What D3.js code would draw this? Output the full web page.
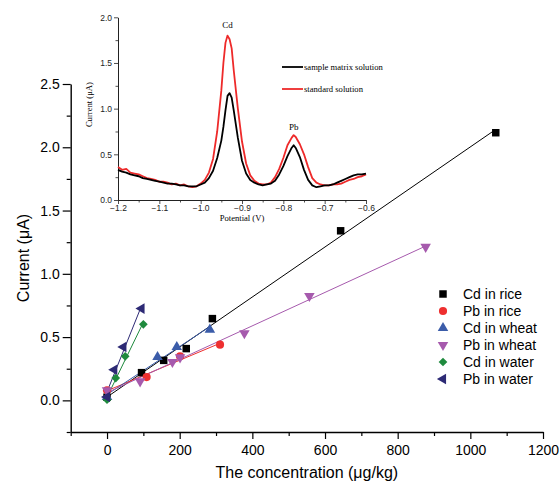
<!DOCTYPE html>
<meta charset="utf-8">
<script src="https://d3js.org/d3.v7.min.js"></script>
<style>
  body { margin: 0; background: #fff; }
  svg { display: block; }
</style>
<div id="chart"></div>
<script>
  // calibration data (concentration in µg/kg, current in µA)
  const seriesNames = ["Cd in rice", "Pb in rice", "Cd in wheat", "Pb in wheat", "Cd in water", "Pb in water"];
  const cdRiceX = [0, 95, 156, 218, 290, 643, 1070];
  const cdRiceY = [0.025, 0.219, 0.316, 0.409, 0.646, 1.34, 2.115];
  const pbRiceX = [0, 109, 201, 311];
  const pbRiceY = [0.08, 0.184, 0.348, 0.440];
  const cdWheatX = [0, 139, 192, 283];
  const cdWheatY = [0.026, 0.342, 0.422, 0.559];
  const pbWheatX = [0, 91, 180, 201, 378, 557, 877];
  const pbWheatY = [0.08, 0.150, 0.303, 0.34, 0.53, 0.825, 1.213];
  const cdWaterX = [0, 24, 50, 100];
  const cdWaterY = [0.005, 0.176, 0.348, 0.601];
  const pbWaterX = [0, 20, 45, 95];
  const pbWaterY = [0.026, 0.242, 0.422, 0.725];

  // inset voltammograms
  const potential = [-1.20,-1.19,-1.18,-1.17,-1.16,-1.15,-1.14,-1.13,-1.12,-1.11,-1.10,-1.09,-1.08,-1.07,-1.06,-1.05,-1.04,-1.03,-1.02,-1.01,
    -1.00,-0.99,-0.98,-0.97,-0.96,-0.95,-0.945,-0.94,-0.935,-0.93,-0.925,-0.92,-0.91,-0.90,-0.89,-0.88,-0.87,-0.86,-0.85,-0.84,-0.83,
    -0.82,-0.81,-0.80,-0.79,-0.78,-0.775,-0.77,-0.76,-0.75,-0.74,-0.73,-0.72,-0.71,-0.70,-0.69,-0.68,-0.67,-0.66,-0.65,-0.64,-0.63,-0.62,-0.61,-0.60];
  const sampleCurrent = [0.33,0.31,0.30,0.28,0.27,0.26,0.24,0.23,0.22,0.21,0.20,0.19,0.18,0.18,0.17,0.16,0.16,0.15,0.15,0.15,
    0.17,0.19,0.24,0.32,0.46,0.65,0.80,0.98,1.14,1.17,1.12,0.98,0.68,0.43,0.29,0.22,0.19,0.17,0.16,0.17,0.18,
    0.21,0.28,0.37,0.48,0.57,0.60,0.57,0.47,0.33,0.22,0.16,0.14,0.15,0.16,0.16,0.17,0.19,0.21,0.23,0.25,0.27,0.28,0.28,0.29];
  const standardCurrent = [0.36,0.33,0.34,0.30,0.29,0.28,0.26,0.24,0.23,0.22,0.20,0.20,0.19,0.17,0.18,0.16,0.17,0.15,0.14,0.15,
    0.18,0.22,0.30,0.45,0.75,1.20,1.50,1.72,1.80,1.76,1.66,1.42,1.00,0.64,0.40,0.27,0.21,0.18,0.17,0.17,0.19,
    0.25,0.34,0.46,0.60,0.68,0.71,0.69,0.61,0.50,0.36,0.24,0.19,0.17,0.16,0.16,0.17,0.17,0.18,0.20,0.22,0.23,0.25,0.26,0.28];

  const xTicks = [0, 200, 400, 600, 800, 1000, 1200];
  const yTicks = [0.0, 0.5, 1.0, 1.5, 2.0, 2.5];
  const insetXTicks = [-1.2, -1.1, -1.0, -0.9, -0.8, -0.7, -0.6];
  const insetYTicks = [0.0, 0.5, 1.0, 1.5, 2.0];

  const colors = ["#000000", "#ee2f2f", "#3b5ca9", "#a65aad", "#1e8a3d", "#2d2a75"];
  const sans = "'Liberation Sans', Arial, sans-serif";
  const serif = "'Liberation Serif', 'Times New Roman', serif";

  const series = [
    {x: cdRiceX, y: cdRiceY, shape: d3.symbolSquare, size: 56, rot: 0},
    {x: pbRiceX, y: pbRiceY, shape: d3.symbolCircle, size: 52, rot: 0},
    {x: cdWheatX, y: cdWheatY, shape: d3.symbolTriangle, size: 48, rot: 0},
    {x: pbWheatX, y: pbWheatY, shape: d3.symbolTriangle, size: 48, rot: 180},
    {x: cdWaterX, y: cdWaterY, shape: d3.symbolSquare, size: 38, rot: 45},
    {x: pbWaterX, y: pbWaterY, shape: d3.symbolTriangle, size: 48, rot: -90}
  ];

  // least squares line through a series
  function fit(xs, ys) {
    const mx = d3.mean(xs), my = d3.mean(ys);
    const sxy = d3.sum(xs, (v, i) => (v - mx) * (ys[i] - my));
    const sxx = d3.sum(xs, v => (v - mx) * (v - mx));
    const slope = sxy / sxx;
    const b = my - slope * mx;
    const x0 = d3.min(xs), x1 = d3.max(xs);
    return [[x0, b + slope * x0], [x1, b + slope * x1]];
  }

  const svg = d3.select("#chart").append("svg")
      .attr("width", 560)
      .attr("height", 484)
      .style("background", "#fff");

  // main scales
  const x = d3.scaleLinear().domain([-100, 1200]).range([70.7, 543]);
  const y = d3.scaleLinear().domain([-0.25, 2.5]).range([432, 84]);

  function styleAxis(g, size) {
    g.select(".domain").attr("stroke", "#000").attr("stroke-width", 1.4);
    g.selectAll(".tick line").attr("stroke", "#000").attr("stroke-width", 1.2);
    g.selectAll("text").attr("font-family", sans).attr("font-size", size).attr("fill", "#000");
  }

  // X axis with minor ticks
  svg.append("g")
      .attr("transform", `translate(0,${y(-0.25)})`)
      .call(d3.axisBottom(x).tickValues(d3.range(-100, 1200, 200)).tickSize(4).tickFormat(""))
      .call(g => g.select(".domain").remove())
      .call(g => g.selectAll(".tick line").attr("stroke", "#000").attr("stroke-width", 1.2));
  svg.append("g")
      .attr("transform", `translate(0,${y(-0.25)})`)
      .call(d3.axisBottom(x).tickValues(xTicks).tickSize(7).tickSizeOuter(0).tickPadding(6).tickFormat(d3.format("d")))
      .call(g => styleAxis(g, 14));

  // Y axis with minor ticks
  svg.append("g")
      .attr("transform", `translate(${x(-100)},0)`)
      .call(d3.axisLeft(y).tickValues(d3.range(-0.25, 2.5, 0.5)).tickSize(4).tickFormat(""))
      .call(g => g.select(".domain").remove())
      .call(g => g.selectAll(".tick line").attr("stroke", "#000").attr("stroke-width", 1.2));
  svg.append("g")
      .attr("transform", `translate(${x(-100)},0)`)
      .call(d3.axisLeft(y).tickValues(yTicks).tickSize(8).tickSizeOuter(0).tickPadding(3).tickFormat(d3.format(".1f")))
      .call(g => styleAxis(g, 14));

  // axis titles
  svg.append("text")
      .attr("x", (x(-100) + x(1200)) / 2)
      .attr("y", 478)
      .attr("text-anchor", "middle")
      .attr("font-family", sans)
      .attr("font-size", 16)
      .text("The concentration (\u03bcg/kg)");
  svg.append("text")
      .attr("transform", `translate(29,${(y(-0.25) + y(2.5)) / 2}) rotate(-90)`)
      .attr("text-anchor", "middle")
      .attr("font-family", sans)
      .attr("font-size", 16)
      .text("Current (\u03bcA)");

  // fitted lines then markers
  const line = d3.line().x(d => x(d[0])).y(d => y(d[1]));
  series.forEach((s, i) => {
    svg.append("path")
        .datum(fit(s.x, s.y))
        .attr("d", line)
        .attr("fill", "none")
        .attr("stroke", colors[i])
        .attr("stroke-width", 1);
  });
  series.forEach((s, i) => {
    const pts = s.x.map((v, j) => [v, s.y[j]]);
    svg.append("g").selectAll("path")
      .data(pts)
      .join("path")
        .attr("d", d3.symbol().type(s.shape).size(s.size))
        .attr("transform", d => `translate(${x(d[0])},${y(d[1])}) rotate(${s.rot})`)
        .attr("fill", colors[i]);
  });

  // legend
  const legend = svg.append("g");
  seriesNames.forEach((name, i) => {
    const s = series[i];
    const ly = 294 + i * 17;
    legend.append("path")
        .attr("d", d3.symbol().type(s.shape).size(s.size))
        .attr("transform", `translate(443,${ly}) rotate(${s.rot})`)
        .attr("fill", colors[i]);
    legend.append("text")
        .attr("x", 463)
        .attr("y", ly)
        .attr("dy", "0.35em")
        .attr("font-family", sans)
        .attr("font-size", 14)
        .text(name);
  });

  // ---- inset ----
  const ix = d3.scaleLinear().domain([-1.2, -0.6]).range([118, 366]);
  const iy = d3.scaleLinear().domain([0, 2]).range([200, 17.3]);

  function styleInset(g) {
    g.select(".domain").attr("stroke", "#222").attr("stroke-width", 1);
    g.selectAll(".tick line").attr("stroke", "#222").attr("stroke-width", 0.8);
    g.selectAll("text").attr("font-family", sans).attr("font-size", 8.5).attr("fill", "#222");
  }

  svg.append("g")
      .attr("transform", `translate(0,${iy(0)})`)
      .call(d3.axisBottom(ix).tickValues(d3.range(-1.15, -0.6, 0.1)).tickSize(2.5).tickFormat(""))
      .call(g => g.select(".domain").remove())
      .call(g => g.selectAll(".tick line").attr("stroke", "#222").attr("stroke-width", 0.8));
  svg.append("g")
      .attr("transform", `translate(0,${iy(0)})`)
      .call(d3.axisBottom(ix).tickValues(insetXTicks).tickSize(4).tickSizeOuter(0).tickPadding(1).tickFormat(d3.format(".1f")))
      .call(styleInset);

  svg.append("g")
      .attr("transform", `translate(${ix(-1.2)},0)`)
      .call(d3.axisLeft(iy).tickValues([0.25, 0.75, 1.25, 1.75]).tickSize(2.5).tickFormat(""))
      .call(g => g.select(".domain").remove())
      .call(g => g.selectAll(".tick line").attr("stroke", "#222").attr("stroke-width", 0.8));
  svg.append("g")
      .attr("transform", `translate(${ix(-1.2)},0)`)
      .call(d3.axisLeft(iy).tickValues(insetYTicks).tickSize(4).tickSizeOuter(0).tickPadding(2).tickFormat(d3.format(".1f")))
      .call(styleInset);

  svg.append("text")
      .attr("x", (ix(-1.2) + ix(-0.6)) / 2)
      .attr("y", 221)
      .attr("text-anchor", "middle")
      .attr("font-family", serif)
      .attr("font-size", 8.6)
      .text("Potential (V)");
  svg.append("text")
      .attr("transform", `translate(92,${(iy(0) + iy(2)) / 2 - 4}) rotate(-90)`)
      .attr("text-anchor", "middle")
      .attr("font-family", serif)
      .attr("font-size", 8.6)
      .text("Current (\u03bcA)");

  const iline = d3.line().x(d => ix(d[0])).y(d => iy(d[1]));
  const curves = [
    {vals: standardCurrent, color: "#ee2a2a"},
    {vals: sampleCurrent, color: "#000000"}
  ];
  curves.forEach(c => {
    svg.append("path")
        .datum(potential.map((p, j) => [p, c.vals[j]]))
        .attr("d", iline)
        .attr("fill", "none")
        .attr("stroke", c.color)
        .attr("stroke-width", 1.8)
        .attr("stroke-linejoin", "round");
  });

  // peak labels
  svg.append("text").attr("x", ix(-0.935)).attr("y", 28)
      .attr("text-anchor", "middle").attr("font-family", serif).attr("font-size", 9).text("Cd");
  svg.append("text").attr("x", ix(-0.775)).attr("y", 130)
      .attr("text-anchor", "middle").attr("font-family", serif).attr("font-size", 9).text("Pb");

  // inset legend
  const insetLegend = [["sample matrix solution", "#000000", 67], ["standard solution", "#ee2a2a", 89]];
  insetLegend.forEach(d => {
    svg.append("line")
        .attr("x1", 282).attr("x2", 303).attr("y1", d[2]).attr("y2", d[2])
        .attr("stroke", d[1]).attr("stroke-width", 1.8);
    svg.append("text")
        .attr("x", 304).attr("y", d[2]).attr("dy", "0.32em")
        .attr("font-family", serif).attr("font-size", 8.6)
        .text(d[0]);
  });
</script>
